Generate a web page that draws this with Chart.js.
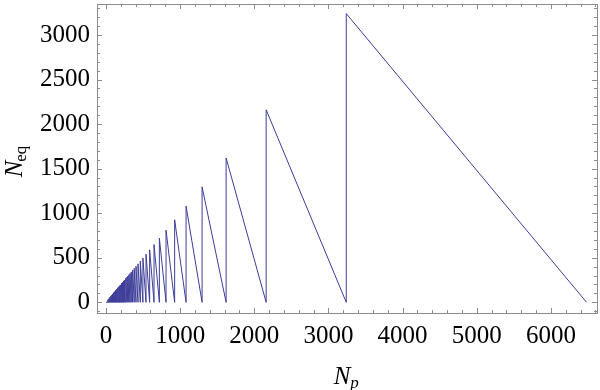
<!DOCTYPE html>
<html>
<head>
<meta charset="utf-8">
<script src="https://cdn.jsdelivr.net/npm/chart.js@4.4.1/dist/chart.umd.min.js"></script>
<style>
  html, body { margin: 0; padding: 0; background: #fff; }
  #wrap { width: 600px; height: 390px; }
</style>
</head>
<body>
<div id="wrap"><canvas id="c" width="600" height="390"></canvas></div>
<script>
// jump positions of the sawtooth (N_p where N_eq jumps)
const jumpX = [6480, 3240, 2160, 1620, 1296, 1080, 926, 810, 720, 648,
  589, 540, 498, 463, 432, 405, 381, 360, 341, 324,
  309, 295, 282, 270, 259, 249, 240, 231, 223, 216,
  209, 203, 196, 191, 185, 180, 175, 171, 166, 162,
  158, 154, 151, 147, 144, 141, 138, 135, 132, 130,
  127, 125, 122, 120, 118, 116, 114, 112, 110, 108,
  106, 105, 103, 101, 100, 98, 97, 95, 94, 93,
  91, 90, 89, 88, 86, 85, 84, 83, 82, 81,
  78, 75, 72, 69, 66, 63, 60, 57, 54, 51,
  48, 45, 42, 39, 36, 33, 30, 27, 24, 21];
// peak heights right after each jump
const peakY = [6480, 3240, 2160, 1620, 1296, 1080, 926, 810, 720, 648,
  589, 540, 498, 463, 432, 405, 381, 360, 341, 324,
  309, 295, 282, 270, 259, 249, 240, 231, 223, 216,
  209, 203, 196, 191, 185, 180, 175, 171, 166, 162,
  158, 154, 151, 147, 144, 141, 138, 135, 132, 130,
  127, 125, 122, 120, 118, 116, 114, 112, 110, 108,
  106, 105, 103, 101, 100, 98, 97, 95, 94, 93,
  91, 90, 89, 88, 86, 85, 84, 83, 82, 81,
  78, 75, 72, 69, 66, 63, 60, 57, 54, 51,
  48, 45, 42, 39, 36, 33, 30, 27, 24, 21];
const xTickValues = [0, 1000, 2000, 3000, 4000, 5000, 6000];
const yTickValues = [0, 500, 1000, 1500, 2000, 2500, 3000];

// build the polyline: up at each jump, then straight down to zero at the next jump
const pts = [{x: 0, y: 0}];
for (let i = jumpX.length - 1; i >= 1; i--) {
  pts.push({x: jumpX[i], y: 0});
  pts.push({x: jumpX[i], y: peakY[i]});
}
pts.push({x: jumpX[0], y: 0});

const FRAME = '#8c8c8c';
const FONT = '"Liberation Serif", "DejaVu Serif", serif';

const framePlugin = {
  id: 'frame',
  afterDraw(chart) {
    const ctx = chart.ctx;
    const a = chart.chartArea;
    const xs = chart.scales.x, ys = chart.scales.y;
    ctx.save();
    ctx.strokeStyle = FRAME;
    ctx.lineWidth = 1;
    ctx.strokeRect(Math.round(a.left) + 0.5, Math.round(a.top) + 0.5,
      Math.round(a.right - a.left), Math.round(a.bottom - a.top));
    ctx.beginPath();
    for (let v = 0; v <= 6600; v += 200) {
      const p = Math.round(xs.getPixelForValue(v)) + 0.5;
      const len = v % 1000 === 0 ? 5 : 3;
      ctx.moveTo(p, a.bottom); ctx.lineTo(p, a.bottom - len);
      ctx.moveTo(p, a.top); ctx.lineTo(p, a.top + len);
    }
    for (let v = -100; v <= 3300; v += 100) {
      const p = Math.round(ys.getPixelForValue(v)) + 0.5;
      const len = v % 500 === 0 ? 5 : 3;
      ctx.moveTo(a.left, p); ctx.lineTo(a.left + len, p);
      ctx.moveTo(a.right, p); ctx.lineTo(a.right - len, p);
    }
    ctx.stroke();

    // axis titles
    ctx.fillStyle = '#000';
    ctx.textBaseline = 'alphabetic';
    // N_p
    ctx.font = 'italic 25px ' + FONT;
    ctx.textAlign = 'left';
    const nW = ctx.measureText('N').width;
    const cx = 347;
    ctx.fillText('N', cx - nW / 2 - 5, 384);
    ctx.font = 'italic 17px ' + FONT;
    ctx.fillText('p', cx + nW / 2 - 5, 388);
    // N_eq (rotated)
    ctx.save();
    ctx.translate(22, 161);
    ctx.rotate(-Math.PI / 2);
    ctx.font = 'italic 25px ' + FONT;
    const n2 = ctx.measureText('N').width;
    ctx.font = '17px ' + FONT;
    const eqW = ctx.measureText('eq').width;
    const tot = n2 + eqW;
    ctx.font = 'italic 25px ' + FONT;
    ctx.fillText('N', -tot / 2, 0);
    ctx.font = '17px ' + FONT;
    ctx.fillText('eq', -tot / 2 + n2 - 1, 4);
    ctx.restore();
    ctx.restore();
  }
};

new Chart(document.getElementById('c'), {
  type: 'scatter',
  data: {
    datasets: [{
      data: pts,
      showLine: true,
      borderColor: '#3d3d99',
      borderWidth: 1,
      pointRadius: 0,
      fill: false,
      tension: 0
    }]
  },
  options: {
    responsive: false,
    animation: false,
    events: [],
    layout: { padding: { left: 0, top: 4, right: 3, bottom: 0 } },
    plugins: { legend: { display: false }, tooltip: { enabled: false } },
    scales: {
      x: {
        type: 'linear',
        min: -121, max: 6621,
        grid: { display: false, drawTicks: false },
        border: { display: false },
        afterBuildTicks: s => { s.ticks = xTickValues.map(v => ({ value: v })); },
        afterFit: s => { s.height = 77; s.paddingLeft = 0; s.paddingRight = 0; },
        ticks: {
          color: '#000',
          padding: 8,
          maxRotation: 0,
          autoSkip: false,
          font: { family: FONT, size: 25 },
          callback: v => String(v)
        }
      },
      y: {
        type: 'linear',
        min: -120, max: 3348,
        grid: { display: false, drawTicks: false },
        border: { display: false },
        afterBuildTicks: s => { s.ticks = yTickValues.map(v => ({ value: v })); },
        afterFit: s => { s.width = 97; s.paddingTop = 0; s.paddingBottom = 0; },
        ticks: {
          color: '#000',
          padding: 7,
          autoSkip: false,
          font: { family: FONT, size: 25 },
          callback: v => String(v)
        }
      }
    }
  },
  plugins: [framePlugin]
});
</script>
</body>
</html>
